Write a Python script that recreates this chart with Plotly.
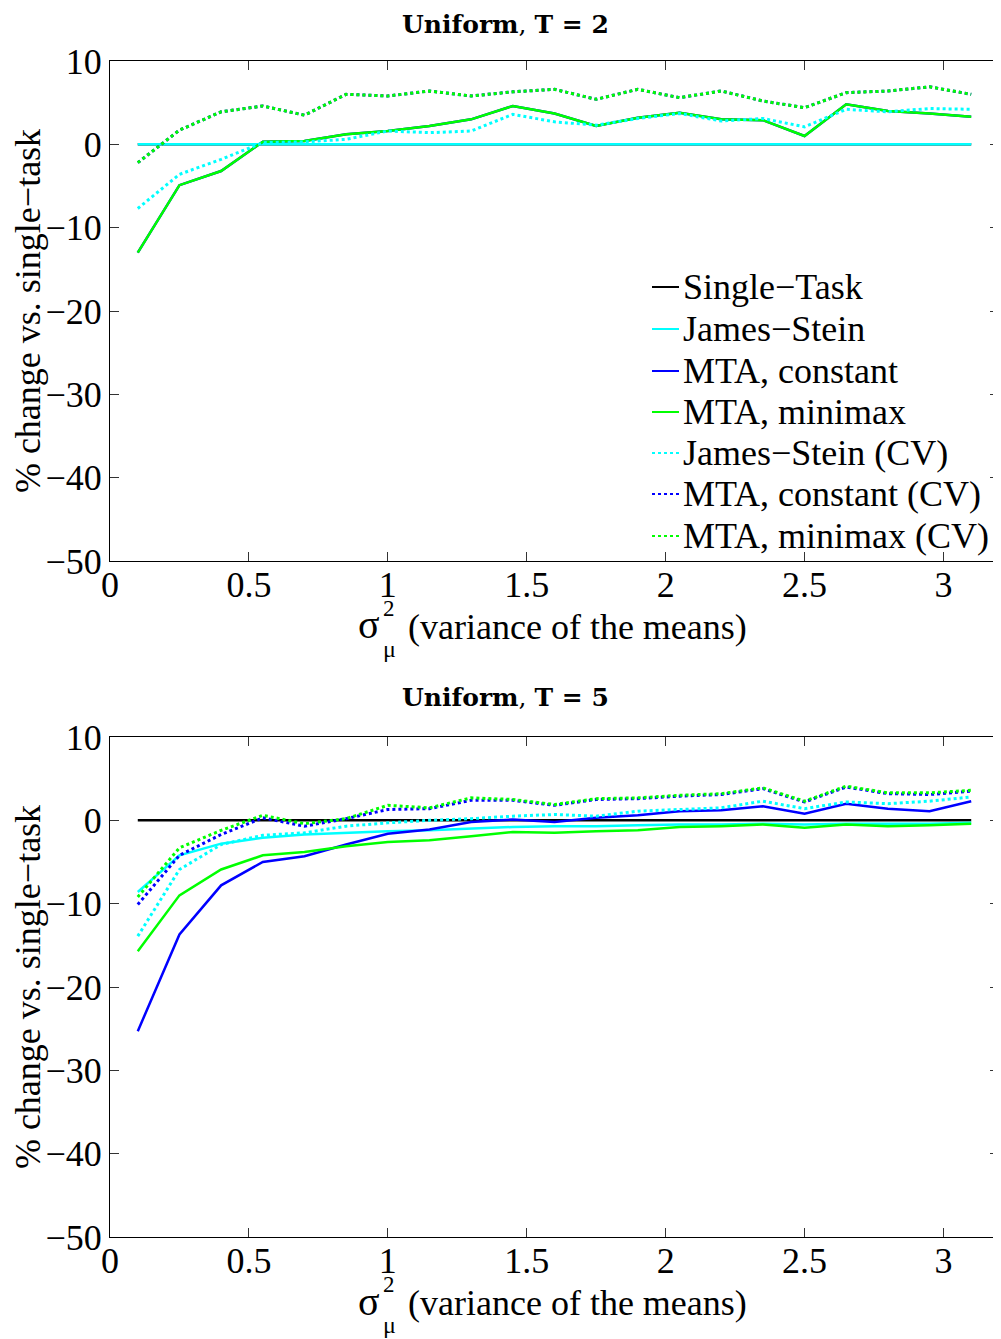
import plotly.graph_objects as go

# ---------------- data ----------------
sigma2 = [0.1, 0.25, 0.4, 0.55, 0.7, 0.85, 1.0, 1.15, 1.3, 1.45, 1.6,
          1.75, 1.9, 2.05, 2.2, 2.35, 2.5, 2.65, 2.8, 2.95, 3.1]

series_names = ["Single−Task", "James−Stein", "MTA, constant", "MTA, minimax",
                "James−Stein (CV)", "MTA, constant (CV)", "MTA, minimax (CV)"]

# T = 2
t2_single = [0.0] * 21
t2_js = [0.0] * 21
t2_mta_const = [-13.0, -4.9, -3.2, 0.3, 0.4, 1.2, 1.6, 2.2, 3.0, 4.6, 3.7,
                2.2, 3.2, 3.8, 3.0, 2.9, 1.0, 4.8, 4.0, 3.7, 3.3]
t2_mta_minimax = [-13.0, -4.9, -3.2, 0.3, 0.4, 1.2, 1.6, 2.2, 3.0, 4.6, 3.7,
                  2.2, 3.2, 3.8, 3.0, 2.9, 1.0, 4.8, 4.0, 3.7, 3.3]
t2_js_cv = [-7.7, -3.6, -1.8, 0.2, 0.3, 0.6, 1.6, 1.4, 1.6, 3.6, 2.7,
            2.3, 3.1, 3.7, 2.8, 3.1, 2.1, 4.2, 3.9, 4.3, 4.2]
t2_mta_const_cv = [-2.2, 1.7, 3.9, 4.6, 3.5, 6.0, 5.8, 6.4, 5.8, 6.3, 6.6,
                   5.4, 6.6, 5.6, 6.4, 5.2, 4.4, 6.2, 6.4, 6.9, 6.0]
t2_mta_minimax_cv = [-2.2, 1.7, 3.9, 4.6, 3.5, 6.0, 5.8, 6.4, 5.8, 6.3, 6.6,
                     5.4, 6.6, 5.6, 6.4, 5.2, 4.4, 6.2, 6.4, 6.9, 6.0]

# T = 5
t5_single = [0.0] * 21
t5_js = [-8.6, -4.2, -2.8, -2.1, -1.7, -1.5, -1.3, -1.2, -1.0, -0.8, -0.7,
         -0.7, -0.6, -0.5, -0.5, -0.4, -0.5, -0.4, -0.4, -0.4, -0.3]
t5_mta_const = [-25.3, -13.7, -7.8, -5.0, -4.3, -2.9, -1.6, -1.1, -0.2, 0.1, -0.2,
                0.3, 0.6, 1.1, 1.2, 1.7, 0.8, 2.0, 1.4, 1.1, 2.3]
t5_mta_minimax = [-15.7, -9.0, -5.9, -4.2, -3.8, -3.1, -2.6, -2.4, -1.9, -1.4, -1.5,
                  -1.3, -1.2, -0.8, -0.7, -0.5, -0.9, -0.5, -0.7, -0.6, -0.4]
t5_js_cv = [-13.9, -5.9, -2.9, -1.8, -1.5, -0.7, -0.3, 0.0, 0.2, 0.5, 0.7,
            0.5, 1.1, 1.3, 1.5, 2.3, 1.4, 2.2, 2.0, 2.3, 2.8]
t5_mta_const_cv = [-10.1, -4.2, -1.7, 0.3, -0.7, 0.2, 1.3, 1.4, 2.4, 2.4, 1.8,
                   2.5, 2.6, 2.9, 3.1, 3.8, 2.2, 4.0, 3.2, 3.1, 3.5]
t5_mta_minimax_cv = [-9.2, -3.3, -1.2, 0.6, -0.4, 0.2, 1.8, 1.5, 2.7, 2.5, 1.9,
                     2.6, 2.7, 3.0, 3.2, 3.9, 2.3, 4.1, 3.3, 3.3, 3.6]

x_ticks = [0, 0.5, 1, 1.5, 2, 2.5, 3]
x_ticklabels = ["0", "0.5", "1", "1.5", "2", "2.5", "3"]
y_ticks = [10, 0, -10, -20, -30, -40, -50]
y_ticklabels = ["10", "0", "−10", "−20", "−30", "−40", "−50"]

# ---------------- styling ----------------
colors = ["#000000", "#00ffff", "#0000ff", "#00ff00", "#00ffff", "#0000ff", "#00ff00"]
dashes = ["solid", "solid", "solid", "solid", "dot", "dot", "dot"]
widths = [2.5, 2.5, 2.5, 2.5, 3, 3, 3]

# the page body has an 8px margin: build the figure so it fills the rest
OFF = 8
W, H = 1001 - OFF, 1339 - OFF
FONT = "Liberation Serif"
FS = 36


def px_x(px):
    return (px - OFF) / W


def px_y(py):
    return 1 - (py - OFF) / H


fig = go.Figure()

panels = [
    ([t2_single, t2_js, t2_mta_const, t2_mta_minimax, t2_js_cv, t2_mta_const_cv, t2_mta_minimax_cv], "x", "y"),
    ([t5_single, t5_js, t5_mta_const, t5_mta_minimax, t5_js_cv, t5_mta_const_cv, t5_mta_minimax_cv], "x2", "y2"),
]
for data, xa, ya in panels:
    for i, ys in enumerate(data):
        fig.add_trace(go.Scatter(
            x=sigma2, y=ys, mode="lines", name=series_names[i],
            line=dict(color=colors[i], dash=dashes[i], width=widths[i]),
            xaxis=xa, yaxis=ya, showlegend=False))

xdom = [px_x(110), min(1.0, px_x(999))]

axis_common = dict(
    showgrid=False, zeroline=False, showline=True, linecolor="#000000", linewidth=1.2,
    mirror="ticks", ticks="inside", ticklen=9, tickwidth=1, tickcolor="#333333",
    tickfont=dict(family=FONT, size=FS, color="#000000"), automargin=False,
)
xaxis_extra = dict(ticklabelstandoff=-8)
ytitle = dict(text="% change vs. single−task", font=dict(family=FONT, size=FS, color="#000000"),
              standoff=0)

fig.update_layout(
    width=W, height=H,
    margin=dict(l=0, r=0, t=0, b=0, autoexpand=False),
    paper_bgcolor="white", plot_bgcolor="white",
    showlegend=False,
    xaxis=dict(domain=xdom, range=[0, 3.2], tickvals=x_ticks, ticktext=x_ticklabels,
               anchor="y", **xaxis_extra, **axis_common),
    yaxis=dict(domain=[px_y(561), px_y(61)], range=[-50, 10], tickvals=y_ticks,
               ticktext=y_ticklabels, anchor="x", title=ytitle, **axis_common),
    xaxis2=dict(domain=xdom, range=[0, 3.2], tickvals=x_ticks, ticktext=x_ticklabels,
                anchor="y2", **xaxis_extra, **axis_common),
    yaxis2=dict(domain=[px_y(1237), px_y(737)], range=[-50, 10], tickvals=y_ticks,
                ticktext=y_ticklabels, anchor="x2", title=ytitle, **axis_common),
)

annotations = []
shapes = []
for title, ty, xt_y in [("<b>Uniform</b>, <b>T = 2</b>", 8, 627),
                        ("<b>Uniform</b>, <b>T = 5</b>", 681, 1303)]:
    annotations.append(dict(text=title, x=px_x(505), y=px_y(ty), xref="paper", yref="paper",
                            showarrow=False, xanchor="center", yanchor="top",
                            font=dict(family="DejaVu Serif", size=25, color="#000000")))
    annotations.append(dict(text="σ", x=px_x(369), y=px_y(xt_y - 2), xref="paper", yref="paper",
                            showarrow=False, xanchor="center", yanchor="middle",
                            font=dict(family=FONT, size=40, color="#000000")))
    annotations.append(dict(text="2", x=px_x(389), y=px_y(xt_y - 19), xref="paper", yref="paper",
                            showarrow=False, xanchor="center", yanchor="middle",
                            font=dict(family=FONT, size=23, color="#000000")))
    annotations.append(dict(text="μ", x=px_x(389), y=px_y(xt_y + 22), xref="paper", yref="paper",
                            showarrow=False, xanchor="center", yanchor="middle",
                            font=dict(family=FONT, size=24, color="#000000")))
    annotations.append(dict(text="(variance of the means)", x=px_x(406), y=px_y(xt_y), xref="paper",
                            yref="paper", showarrow=False, xanchor="left", yanchor="middle",
                            font=dict(family=FONT, size=FS, color="#000000")))

# legend (top panel), drawn as sample lines + labels
legend_rows = [287, 329, 371, 412, 453, 494, 536]
for i, name in enumerate(series_names):
    ry = legend_rows[i]
    shapes.append(dict(type="line", xref="paper", yref="paper",
                       x0=px_x(652), x1=px_x(679), y0=px_y(ry), y1=px_y(ry),
                       line=dict(color=colors[i], dash=dashes[i], width=2)))
    annotations.append(dict(text=name, x=px_x(681), y=px_y(ry), xref="paper", yref="paper",
                            showarrow=False, xanchor="left", yanchor="middle",
                            font=dict(family=FONT, size=FS, color="#000000")))

fig.update_layout(annotations=annotations, shapes=shapes)

fig.write_html("out.html")
